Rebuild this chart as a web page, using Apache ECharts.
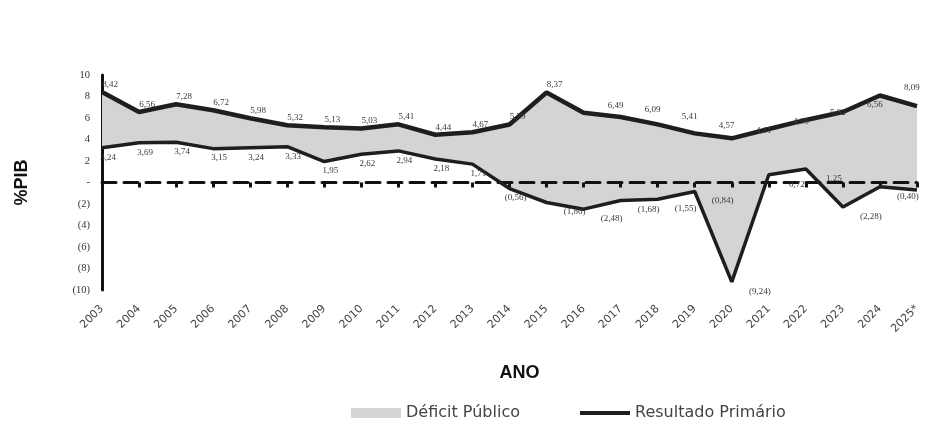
<!DOCTYPE html>
<html>
<head>
<meta charset="utf-8">
<script src="https://cdn.jsdelivr.net/npm/echarts@6/dist/echarts.min.js"></script>
<style>html,body{margin:0;padding:0;background:#fff}#c{width:929px;height:432px}</style>
</head>
<body>
<div id="c"></div>
<script>
const years = ['2003','2004','2005','2006','2007','2008','2009','2010','2011','2012','2013','2014','2015','2016','2017','2018','2019','2020','2021','2022','2023','2024','2025*'];
const jurosNominais = [8.42,6.56,7.28,6.72,5.98,5.32,5.13,5.03,5.41,4.44,4.67,5.39,8.37,6.49,6.09,5.41,4.57,4.11,4.98,5.82,6.56,8.09,7.1];
const resultadoPrimario = [3.24,3.69,3.74,3.15,3.24,3.33,1.95,2.62,2.94,2.18,1.71,-0.56,-1.86,-2.48,-1.68,-1.55,-0.84,-9.24,0.72,1.25,-2.28,-0.40,-0.70];
const yTicks = {'10':'10','8':'8','6':'6','4':'4','2':'2','0':'-','-2':'(2)','-4':'(4)','-6':'(6)','-8':'(8)','-10':'(10)'};

const deficit = jurosNominais.map((v, i) => +(v - resultadoPrimario[i]).toFixed(2));
function fmt(v, digits) {
  const s = Math.abs(v).toFixed(digits).replace('.', ',');
  return v < 0 ? '(' + s + ')' : s;
}
const labelFont = {fontFamily: 'Liberation Serif', fontSize: 9, color: '#3a3a3a'};

const upperData = jurosNominais.map((v, i) => ({
  value: v,
  label: {offset: [i <= 12 ? 8 : 32, 0]}
}));
const lowerData = resultadoPrimario.map((v, i) => ({
  value: v,
  label: {offset: [i <= 11 ? 6 : 28, 0]}
}));

const chart = echarts.init(document.getElementById('c'), null, {renderer: 'canvas'});
chart.setOption({
  animation: false,
  backgroundColor: '#fff',
  grid: {left: 102, right: 12, top: 75, bottom: 142, containLabel: false, outerBoundsMode: 'none'},
  legend: {
    top: 400, left: 346, itemGap: 60, itemWidth: 50, itemHeight: 10,
    textStyle: {fontFamily: 'DejaVu Sans', fontSize: 16, color: '#444'},
    data: [
      {name: 'Déficit Público', icon: 'rect'},
      {name: 'Resultado Primário', icon: 'path://M0,0 L50,0 L50,4 L0,4 Z', itemStyle: {color: '#1e1e1e'}}
    ]
  },
  xAxis: [{
    type: 'category', data: years, boundaryGap: false, position: 'bottom',
    axisLine: {show: false, onZero: false}, axisTick: {show: false},
    axisLabel: {rotate: 45, margin: 17, interval: 0, fontFamily: 'DejaVu Sans', fontSize: 11, color: '#444'},
    name: 'ANO', nameLocation: 'middle', nameGap: 74,
    nameTextStyle: {fontFamily: 'Liberation Sans', fontWeight: 'bold', fontSize: 18, color: '#111', padding: [0, 0, 0, 20]}
  }, {
    type: 'category', data: years, boundaryGap: false, position: 'bottom', z: 2,
    axisLine: {show: true, onZero: true, lineStyle: {color: '#111', width: 3, type: [14, 8]}},
    axisTick: {show: true, interval: 0, length: 5, lineStyle: {color: '#111', width: 3}},
    axisLabel: {show: false}
  }],
  yAxis: {
    type: 'value', min: -10, max: 10, interval: 2,
    axisLine: {show: true, onZero: false, lineStyle: {color: '#111', width: 3}},
    axisTick: {show: false}, splitLine: {show: false},
    axisLabel: {margin: 12, fontFamily: 'Liberation Serif', fontSize: 10.5, color: '#333',
      formatter: v => yTicks[String(v)] ?? String(v)},
    name: '%PIB', nameLocation: 'middle', nameGap: 71, nameRotate: 90,
    nameTextStyle: {fontFamily: 'Liberation Sans', fontWeight: 'bold', fontSize: 18, color: '#111'}
  },
  series: [{
    name: 'base', type: 'line', xAxisIndex: 0, data: resultadoPrimario, stack: 'd', stackStrategy: 'all',
    symbol: 'none', lineStyle: {opacity: 0}, silent: true, z: 1
  }, {
    name: 'Déficit Público', type: 'line', xAxisIndex: 0, data: deficit, stack: 'd', stackStrategy: 'all',
    symbol: 'none', lineStyle: {width: 0, opacity: 0}, itemStyle: {color: '#d4d4d4'},
    areaStyle: {color: '#d4d4d4', opacity: 1}, z: 1
  }, {
    name: 'Juros', type: 'line', xAxisIndex: 0, data: upperData, symbol: 'circle', symbolSize: 0, showSymbol: true,
    lineStyle: {color: '#1e1e1e', width: 4.5}, itemStyle: {color: '#1e1e1e'}, z: 3,
    label: {show: true, position: 'top', distance: 3, formatter: p => fmt(p.value, 2), ...labelFont}
  }, {
    name: 'Resultado Primário', type: 'line', xAxisIndex: 0, data: lowerData, symbol: 'circle', symbolSize: 0, showSymbol: true,
    lineStyle: {color: '#1e1e1e', width: 3.5}, itemStyle: {color: '#1e1e1e'}, z: 3,
    label: {show: true, position: 'bottom', distance: 5, formatter: p => fmt(p.value, 2), ...labelFont}
  }]
});
</script>
</body>
</html>
